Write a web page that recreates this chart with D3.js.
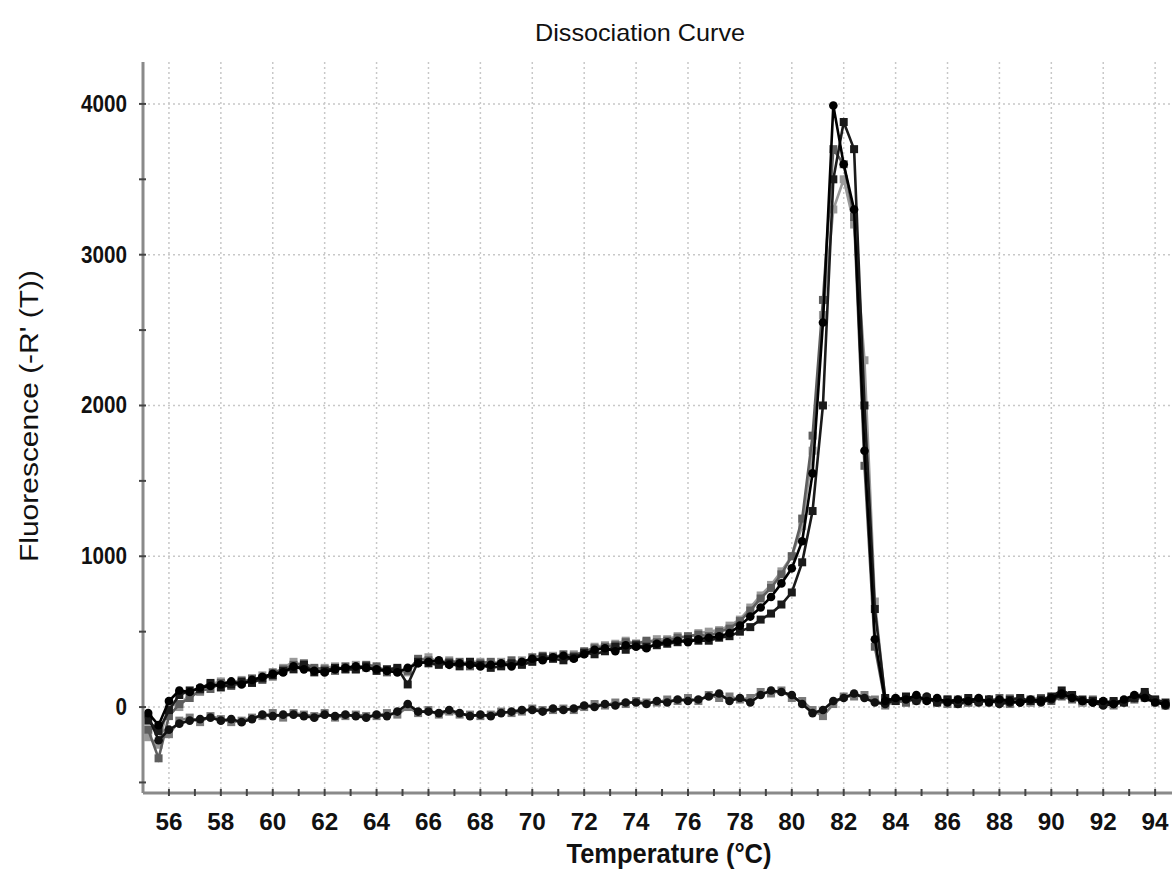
<!DOCTYPE html>
<html>
<head>
<meta charset="utf-8">
<script src="https://cdn.jsdelivr.net/npm/d3@7/dist/d3.min.js"></script>
<style>
  body { margin: 0; background: #fff; }
  text { font-family: 'Liberation Sans', Arial, sans-serif; fill: #111; }
</style>
</head>
<body>
<div id="chart"></div>
<script>
// melt temperatures (deg C), shared by every sample
const temps = [
  55.2, 55.6, 56.0, 56.4, 56.8, 57.2, 57.6, 58.0, 58.4, 58.8,
  59.2, 59.6, 60.0, 60.4, 60.8, 61.2, 61.6, 62.0, 62.4, 62.8,
  63.2, 63.6, 64.0, 64.4, 64.8, 65.2, 65.6, 66.0, 66.4, 66.8,
  67.2, 67.6, 68.0, 68.4, 68.8, 69.2, 69.6, 70.0, 70.4, 70.8,
  71.2, 71.6, 72.0, 72.4, 72.8, 73.2, 73.6, 74.0, 74.4, 74.8,
  75.2, 75.6, 76.0, 76.4, 76.8, 77.2, 77.6, 78.0, 78.4, 78.8,
  79.2, 79.6, 80.0, 80.4, 80.8, 81.2, 81.6, 82.0, 82.4, 82.8,
  83.2, 83.6, 84.0, 84.4, 84.8, 85.2, 85.6, 86.0, 86.4, 86.8,
  87.2, 87.6, 88.0, 88.4, 88.8, 89.2, 89.6, 90.0, 90.4, 90.8,
  91.2, 91.6, 92.0, 92.4, 92.8, 93.2, 93.6, 94.0, 94.4
];

// -R'(T) per sample
const sampleA = [
  -40, -120, 40, 110, 100, 130, 140, 150, 170, 150,
  180, 200, 220, 230, 270, 250, 240, 230, 250, 260,
  270, 260, 250, 240, 230, 260, 290, 300, 310, 280,
  290, 280, 270, 280, 290, 270, 300, 320, 310, 330,
  340, 320, 350, 380, 390, 370, 410, 400, 390, 420,
  430, 440, 430, 450, 460, 470, 490, 540, 600, 660,
  730, 820, 920, 1100, 1550, 2550, 3990, 3600, 3300, 1700,
  450, 40, 60, 50, 80, 40, 60, 30, 50, 40,
  60, 30, 50, 40, 30, 50, 40, 60, 90, 60,
  40, 30, 40, 20, 50, 80, 60, 30, 20
];
const sampleB = [
  -90, -160, -20, 80, 110, 120, 160, 130, 150, 170,
  160, 190, 210, 240, 250, 280, 230, 240, 260, 250,
  250, 270, 240, 250, 260, 150, 300, 290, 280, 290,
  270, 300, 280, 260, 270, 290, 280, 300, 330, 320,
  310, 330, 360, 350, 370, 400, 380, 410, 400, 410,
  420, 430, 450, 440, 440, 460, 470, 500, 530, 580,
  620, 680, 760, 960, 1300, 2000, 3500, 3880, 3700, 2000,
  650, 60, 40, 70, 50, 60, 30, 50, 40, 60,
  40, 50, 30, 50, 60, 40, 50, 70, 110, 80,
  50, 40, 30, 40, 30, 60, 100, 50, 30
];
const sampleC = [
  -150, -340, -60, 20, 60, 110, 120, 160, 140, 160,
  190, 180, 230, 250, 280, 290, 260, 250, 240, 270,
  250, 280, 270, 230, 250, 240, 320, 310, 290, 300,
  300, 270, 290, 300, 280, 310, 290, 330, 340, 330,
  350, 340, 370, 390, 400, 410, 430, 420, 440, 430,
  440, 460, 470, 480, 470, 500, 520, 570, 640, 720,
  790, 880, 1000, 1250, 1800, 2700, 3700, 3600, 3250, 1600,
  400, 30, 50, 30, 60, 50, 40, 50, 20, 30,
  50, 40, 60, 30, 40, 50, 60, 40, 70, 50,
  40, 50, 20, 30, 40, 50, 70, 40, 10
];
const sampleD = [
  -200, -250, 30, 0, 90, 100, 150, 170, 160, 180,
  170, 210, 200, 260, 300, 270, 250, 260, 270, 250,
  280, 260, 260, 250, 240, 230, 310, 330, 300, 310,
  290, 300, 300, 290, 300, 280, 310, 310, 320, 340,
  330, 350, 360, 400, 410, 420, 440, 420, 430, 450,
  450, 470, 460, 490, 500, 510, 540, 580, 660, 740,
  810, 900, 1000, 1200, 1700, 2600, 3300, 3500, 3200, 2300,
  700, 50, 40, 60, 40, 50, 50, 40, 30, 50,
  30, 50, 40, 60, 50, 30, 40, 50, 80, 70,
  30, 40, 30, 20, 40, 70, 80, 50, 20
];
// no-template controls
const controlE = [
  -60, -220, -150, -110, -90, -80, -70, -90, -80, -100,
  -80, -50, -60, -50, -50, -60, -70, -50, -60, -50,
  -60, -70, -50, -60, -30, 20, -30, -30, -40, -20,
  -40, -60, -50, -60, -40, -30, -20, -20, -30, -10,
  -20, -10, 10, 0, 20, 10, 30, 30, 20, 40,
  30, 50, 40, 50, 70, 90, 40, 60, 30, 80,
  110, 100, 80, 20, -40, -20, 40, 60, 90, 60,
  30, 20, 50, 60, 40, 70, 30, 40, 20, 40,
  30, 50, 20, 30, 30, 40, 30, 50, 80, 70,
  40, 30, 10, 20, 30, 60, 90, 40, 10
];
const controlF = [
  -150, -130, -180, -90, -70, -100, -60, -80, -100, -90,
  -70, -60, -40, -70, -40, -50, -60, -40, -70, -60,
  -50, -60, -60, -40, -50, 0, -40, -20, -50, -30,
  -50, -50, -60, -50, -30, -40, -30, -10, -20, -20,
  -10, -20, 0, 20, 10, 30, 20, 40, 30, 30,
  50, 40, 60, 40, 80, 60, 70, 50, 60, 100,
  90, 110, 60, 40, -20, -60, 20, 70, 70, 80,
  50, 10, 40, 30, 60, 50, 40, 20, 50, 30,
  40, 30, 40, 20, 50, 30, 40, 60, 90, 60,
  30, 40, 30, 10, 40, 70, 60, 30, 20
];

const xMajor = [56, 58, 60, 62, 64, 66, 68, 70, 72, 74, 76, 78, 80, 82, 84, 86, 88, 90, 92, 94];
const xMinor = [57, 59, 61, 63, 65, 67, 69, 71, 73, 75, 77, 79, 81, 83, 85, 87, 89, 91, 93];
const yMajor = [0, 1000, 2000, 3000, 4000];
const yMinor = [-500, 500, 1500, 2500, 3500];

// draw order: grey first, black on top
const series = [
  {values: controlF, color: '#7a7a7a', shape: 'square'},
  {values: sampleD, color: '#9a9a9a', shape: 'square'},
  {values: sampleC, color: '#5e5e5e', shape: 'square'},
  {values: controlE, color: '#111', shape: 'circle'},
  {values: sampleB, color: '#1a1a1a', shape: 'square'},
  {values: sampleA, color: '#000', shape: 'circle'}
];

const W = 1172, H = 894;
const margin = {top: 62, right: 0, bottom: 101, left: 143};
const width = W - margin.left - margin.right;
const height = H - margin.top - margin.bottom;

const svg = d3.select('#chart')
  .append('svg')
    .attr('width', W)
    .attr('height', H)
  .append('g')
    .attr('transform', `translate(${margin.left},${margin.top})`);

const x = d3.scaleLinear()
  .domain([55, 94.65])
  .range([0, width]);

const y = d3.scaleLinear()
  .domain([-570, 4278])
  .range([height, 0]);

// dotted grid
svg.append('g')
  .selectAll('line')
  .data(xMajor)
  .join('line')
    .attr('x1', d => x(d)).attr('x2', d => x(d))
    .attr('y1', 0).attr('y2', height)
    .attr('stroke', '#c8c8c8')
    .attr('stroke-width', 1.5)
    .attr('stroke-dasharray', '2,3');
svg.append('g')
  .selectAll('line')
  .data(yMajor)
  .join('line')
    .attr('x1', 0).attr('x2', width)
    .attr('y1', d => y(d)).attr('y2', d => y(d))
    .attr('stroke', '#c8c8c8')
    .attr('stroke-width', 1.5)
    .attr('stroke-dasharray', '2,3');

// curves
const line = d3.line()
  .x((d, i) => x(temps[i]))
  .y(d => y(d));

series.forEach(s => {
  const g = svg.append('g');
  g.append('path')
    .datum(s.values)
    .attr('d', line)
    .attr('fill', 'none')
    .attr('stroke', s.color)
    .attr('stroke-width', 2.6);
  if (s.shape === 'circle') {
    g.selectAll('circle')
      .data(s.values)
      .join('circle')
        .attr('cx', (d, i) => x(temps[i]))
        .attr('cy', d => y(d))
        .attr('r', 4.3)
        .attr('fill', s.color);
  } else {
    g.selectAll('rect')
      .data(s.values)
      .join('rect')
        .attr('x', (d, i) => x(temps[i]) - 4)
        .attr('y', d => y(d) - 4)
        .attr('width', 8)
        .attr('height', 8)
        .attr('fill', s.color);
  }
});

// X axis
const xAxis = svg.append('g')
  .attr('transform', `translate(0,${height})`);
xAxis.append('line')
  .attr('x1', 0).attr('x2', width)
  .attr('stroke', '#8a8a8a')
  .attr('stroke-width', 3);
xAxis.selectAll('.tick')
  .data(xMajor.concat(xMinor))
  .join('line')
    .attr('class', 'tick')
    .attr('x1', d => x(d)).attr('x2', d => x(d))
    .attr('y1', -4).attr('y2', 3)
    .attr('stroke', '#444')
    .attr('stroke-width', 2);
xAxis.selectAll('text')
  .data(xMajor)
  .join('text')
    .attr('x', d => x(d))
    .attr('y', 37)
    .attr('text-anchor', 'middle')
    .attr('textLength', 27)
    .attr('lengthAdjust', 'spacingAndGlyphs')
    .style('font-size', '24px')
    .style('font-weight', 'bold')
    .text(d => d);

// Y axis
const yAxis = svg.append('g');
yAxis.append('line')
  .attr('y1', 0).attr('y2', height)
  .attr('stroke', '#8a8a8a')
  .attr('stroke-width', 3);
yAxis.selectAll('.tick')
  .data(yMajor.concat(yMinor))
  .join('line')
    .attr('class', 'tick')
    .attr('x1', -4).attr('x2', 3)
    .attr('y1', d => y(d)).attr('y2', d => y(d))
    .attr('stroke', '#444')
    .attr('stroke-width', 2);
yAxis.selectAll('text')
  .data(yMajor)
  .join('text')
    .attr('x', -16)
    .attr('y', d => y(d) + 8)
    .attr('text-anchor', 'end')
    .attr('textLength', d => String(d).length * 11.5)
    .attr('lengthAdjust', 'spacingAndGlyphs')
    .style('font-size', '23px')
    .style('font-weight', 'bold')
    .text(d => d);

// titles
const root = d3.select('#chart svg');
root.append('text')
  .attr('x', 640)
  .attr('y', 41)
  .attr('text-anchor', 'middle')
  .attr('textLength', 210)
  .attr('lengthAdjust', 'spacingAndGlyphs')
  .style('font-size', '24px')
  .text('Dissociation Curve');
root.append('text')
  .attr('x', 669)
  .attr('y', 863)
  .attr('text-anchor', 'middle')
  .attr('textLength', 205)
  .attr('lengthAdjust', 'spacingAndGlyphs')
  .style('font-size', '27px')
  .style('font-weight', 'bold')
  .text('Temperature (°C)');
root.append('text')
  .attr('transform', 'translate(38,416) rotate(-90)')
  .attr('text-anchor', 'middle')
  .attr('textLength', 292)
  .attr('lengthAdjust', 'spacingAndGlyphs')
  .style('font-size', '26px')
  .text("Fluorescence (-R' (T))");
</script>
</body>
</html>
